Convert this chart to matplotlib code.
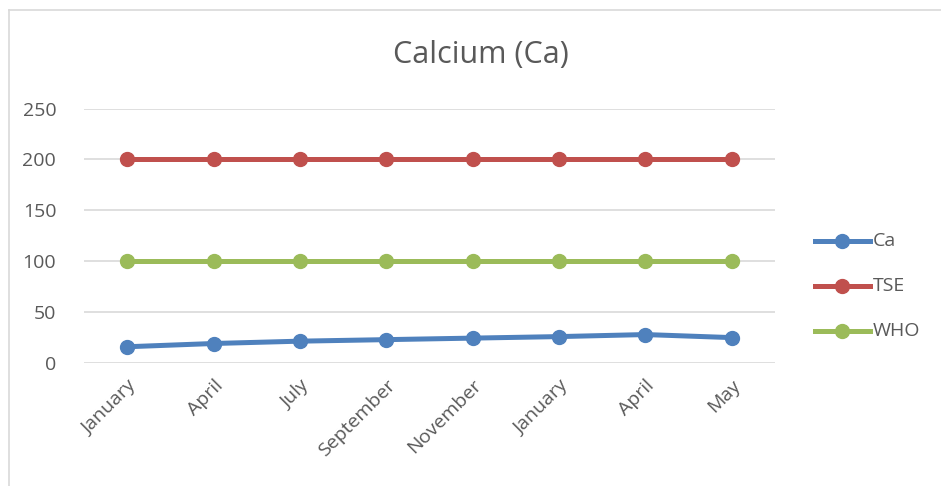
import matplotlib.pyplot as plt
from matplotlib.lines import Line2D

months = ["January", "April", "July", "September", "November", "January", "April", "May"]
ca = [15.5, 18.7, 21, 22.5, 24, 25.5, 27.5, 24.5]
tse = [200, 200, 200, 200, 200, 200, 200, 200]
who = [100, 100, 100, 100, 100, 100, 100, 100]

plt.rcParams['font.family'] = ['Open Sans', 'DejaVu Sans']

W, H = 941, 486
fig = plt.figure(figsize=(W / 100, H / 100), dpi=100)
ax = fig.add_axes([84 / W, 1 - 362.5 / H, (775 - 84) / W, (362.5 - 108.5) / H])

x = range(len(months))
series = [("Ca", ca, "#4F81BD"), ("TSE", tse, "#C0504D"), ("WHO", who, "#9BBB59")]
for name, vals, col in series:
    ax.plot(x, vals, color=col, lw=3.6, marker="o", ms=10, label=name, zorder=3)

ax.set_xlim(-0.5, 7.5)
ax.set_ylim(0, 250)
ax.set_yticks([0, 50, 100, 150, 200, 250])
ax.set_xticks(list(x))
ax.set_xticklabels(months, rotation=45, ha="right", rotation_mode="anchor")
ax.grid(axis="y", color="#D9D9D9", lw=1.2)
ax.set_axisbelow(True)
for s in ax.spines.values():
    s.set_visible(False)
ax.tick_params(length=0, labelsize=14, colors="#595959", pad=20)
ax.tick_params(axis="x", pad=10)

fig.text(481 / W, 1 - 55 / H, "Calcium (Ca)", ha="center", va="center",
         fontsize=22, color="#595959")

# legend on the right
for i, (name, vals, col) in enumerate(series):
    yy = 1 - (241 + 45 * i) / H
    fig.add_artist(Line2D([815 / W, 870 / W], [yy, yy], color=col, lw=3.6,
                          transform=fig.transFigure))
    fig.add_artist(Line2D([842 / W], [yy], color=col, marker="o", ms=10,
                          transform=fig.transFigure))
    fig.text(873 / W, yy, name, ha="left", va="center", fontsize=14, color="#595959")

# chart border (left and top)
fig.add_artist(Line2D([8.5 / W, 8.5 / W], [0, 1 - 10.5 / H], color="#D9D9D9", lw=1.2,
                      transform=fig.transFigure))
fig.add_artist(Line2D([8.5 / W, 1], [1 - 10.5 / H, 1 - 10.5 / H], color="#D9D9D9", lw=1.2,
                      transform=fig.transFigure))

fig.savefig("out.png", dpi=100)
